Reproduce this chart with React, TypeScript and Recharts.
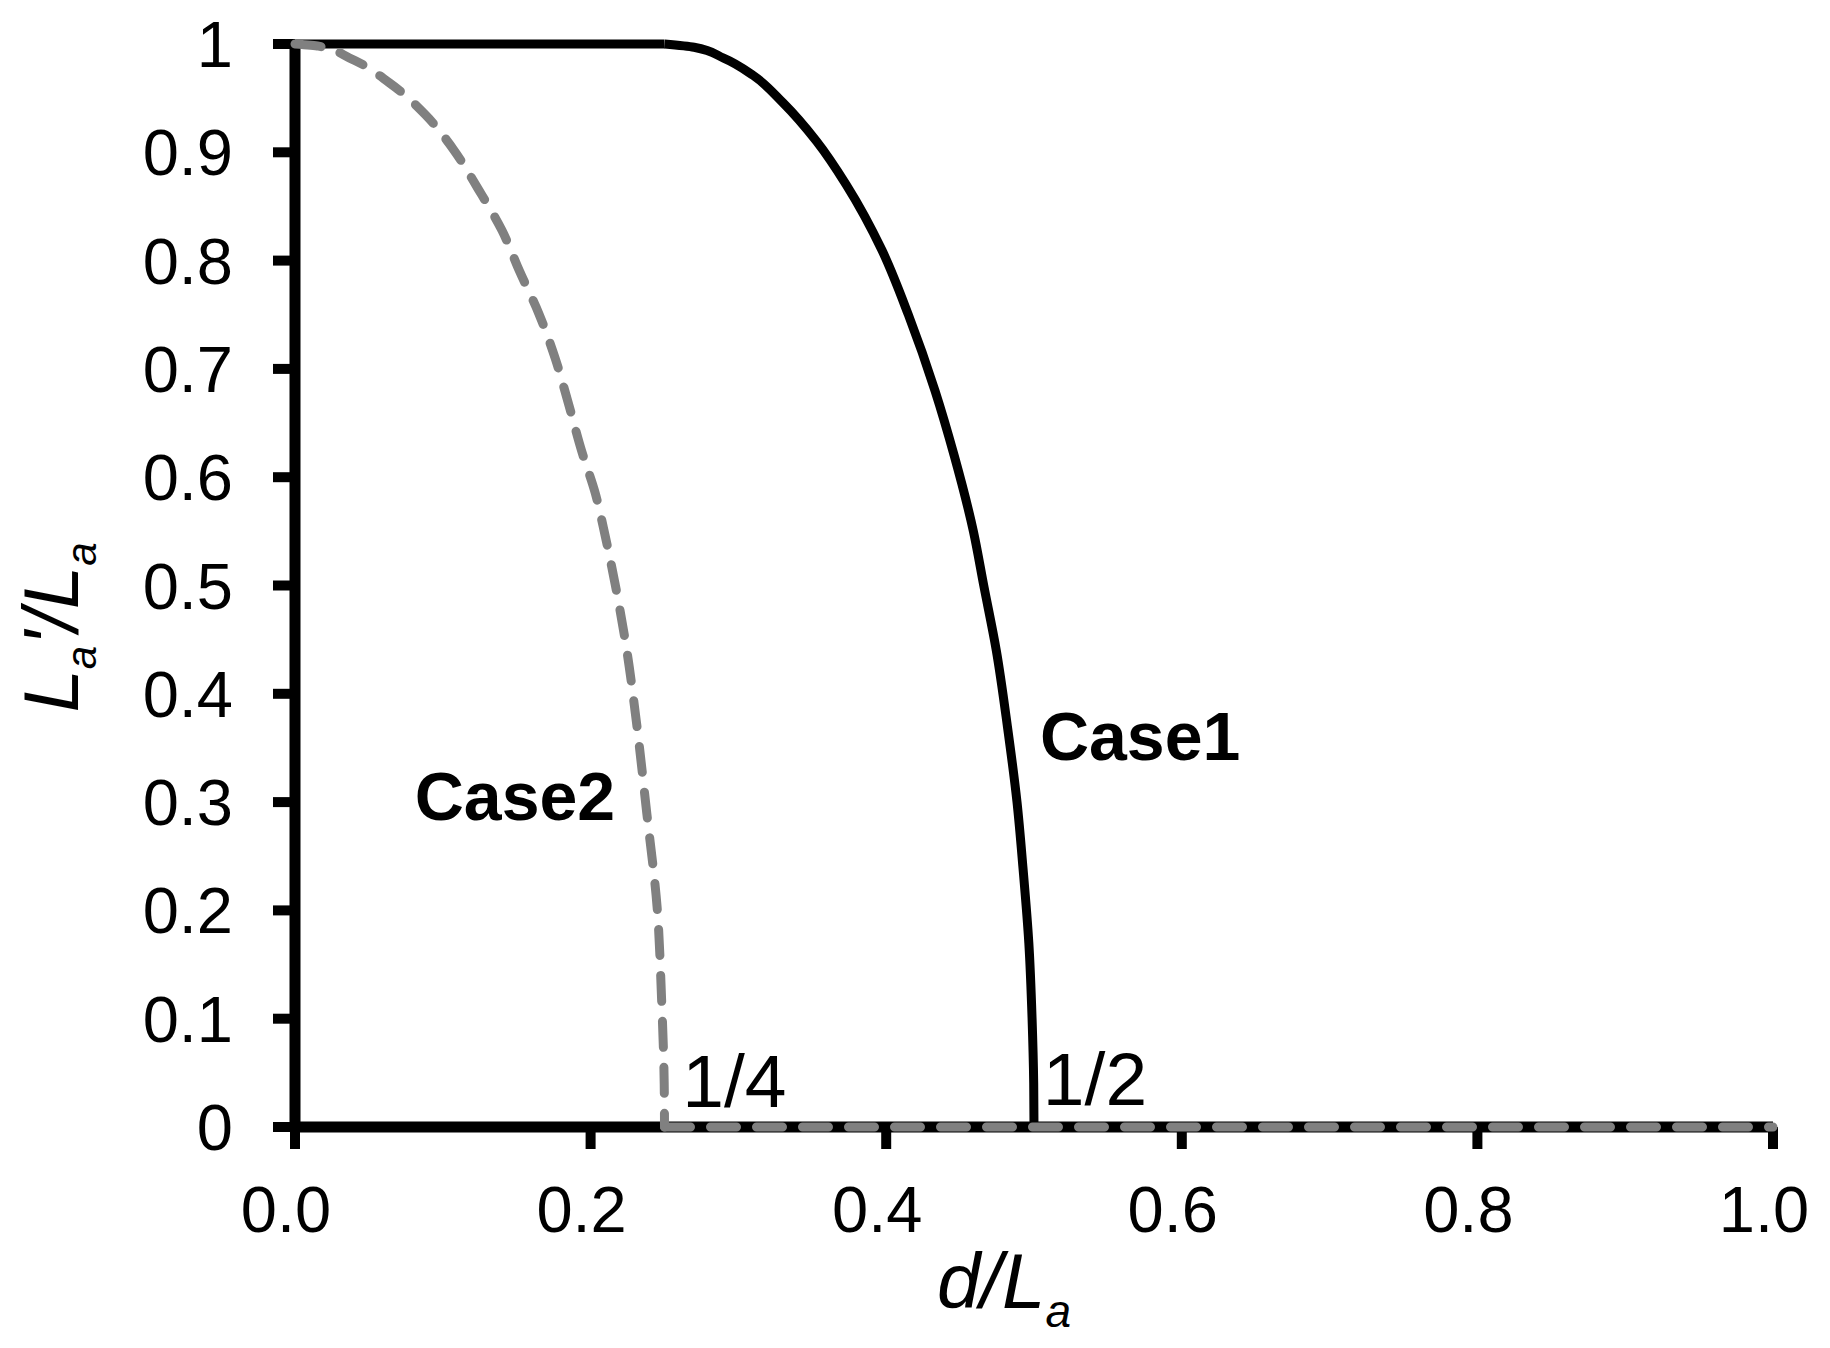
import React from 'react';
import { ComposedChart, Line, Scatter, XAxis, YAxis } from 'recharts';

const FONT = '"Liberation Sans", Arial, Helvetica, sans-serif';

const xTicks = [0, 0.2, 0.4, 0.6, 0.8, 1.0];
const yTicks = [0, 0.1, 0.2, 0.3, 0.4, 0.5, 0.6, 0.7, 0.8, 0.9, 1];

// Case1 (solid black): flat top, curved drop, flat bottom
const case1TopX = [0, 0.25];
const case1TopY = [1, 1];
const case1CurveX = [0.25, 0.27, 0.29, 0.31, 0.33, 0.353, 0.373, 0.397, 0.415, 0.433, 0.446, 0.459, 0.466, 0.4745, 0.482, 0.4885, 0.4925, 0.4965, 0.4987, 0.4998, 0.5];
const case1CurveY = [1, 0.997, 0.987, 0.971, 0.946, 0.91, 0.87, 0.81, 0.75, 0.68, 0.62, 0.55, 0.5, 0.44, 0.37, 0.3, 0.24, 0.17, 0.1, 0.04, 0];
const case1BottomX = [0.5, 1.0];
const case1BottomY = [0, 0];

// Case2 (dashed grey): curved drop, flat bottom
const case2CurveX = [0, 0.016, 0.037, 0.064, 0.088, 0.107, 0.124, 0.14, 0.152, 0.165, 0.176, 0.185, 0.194, 0.203, 0.21, 0.2165, 0.2245, 0.231, 0.238, 0.245, 0.248, 0.2498, 0.25];
const case2CurveY = [1, 0.998, 0.987, 0.964, 0.935, 0.903, 0.866, 0.828, 0.79, 0.751, 0.71, 0.668, 0.624, 0.586, 0.545, 0.502, 0.44, 0.374, 0.29, 0.203, 0.119, 0.04, 0];
const case2BottomX = [0.25, 1.0];
const case2BottomY = [0, 0];

const caseNames = ['Case1', 'Case2'];
const caseAnchorX = [0.504, 0.081];
const caseAnchorY = [0.339, 0.2835];

const fractionNames = ['1/4', '1/2'];
const fractionAnchorX = [0.262, 0.506];
const fractionAnchorY = [0.0185, 0.02];

const zip = (xs: number[], ys: number[]) => xs.map((x, i) => ({ x, y: ys[i] }));
const case1Top = zip(case1TopX, case1TopY);
const case1Curve = zip(case1CurveX, case1CurveY);
const case1Bottom = zip(case1BottomX, case1BottomY);
const case2Curve = zip(case2CurveX, case2CurveY);
const case2Bottom = zip(case2BottomX, case2BottomY);
const caseLabelData = caseNames.map((text, i) => ({ x: caseAnchorX[i], y: caseAnchorY[i], text }));
const fractionLabelData = fractionNames.map((text, i) => ({ x: fractionAnchorX[i], y: fractionAnchorY[i], text }));

const renderCaseLabel = (props: any) => (
  <text x={props.cx} y={props.cy} fontFamily={FONT} fontWeight="bold" fontSize={68} fill="#000" textAnchor="start">
    {props.payload.text}
  </text>
);

const renderFractionLabel = (props: any) => (
  <text x={props.cx} y={props.cy} fontFamily={FONT} fontSize={75} fill="#000" textAnchor="start">
    {props.payload.text}
  </text>
);

const renderYTitle = (props: any) => {
  const vb = props.viewBox || { x: 0, y: 44, width: 295, height: 1083 };
  const X = vb.x + 78;
  const Y = vb.y + vb.height / 2 + 42;
  return (
    <text
      x={X}
      y={Y}
      transform={`rotate(-90 ${X} ${Y})`}
      textAnchor="middle"
      fontFamily={FONT}
      fontStyle="italic"
      fontSize={78}
      fill="#000"
    >
      <tspan>L</tspan>
      <tspan fontSize={42} dy={18}>a</tspan>
      <tspan dy={-18}>'/L</tspan>
      <tspan fontSize={42} dy={18}>a</tspan>
    </text>
  );
};

const renderXTitle = (props: any) => {
  const vb = props.viewBox || { x: 295, y: 1127, width: 1478, height: 221 };
  const X = vb.x + vb.width / 2 - 30;
  const Y = vb.y + 181;
  return (
    <text x={X} y={Y} textAnchor="middle" fontFamily={FONT} fontStyle="italic" fontSize={78} fill="#000">
      <tspan>d/L</tspan>
      <tspan fontSize={46} dy={19}>a</tspan>
    </text>
  );
};

const solid = { stroke: '#000', strokeWidth: 9, dot: false, activeDot: false, isAnimationActive: false } as const;
const dashed = {
  stroke: '#808080',
  strokeWidth: 9,
  strokeDasharray: '26 20',
  strokeLinecap: 'round',
  dot: false,
  activeDot: false,
  isAnimationActive: false,
} as const;

export default function App() {
  return (
    <div style={{ position: 'absolute', left: 0, top: 0, width: 1830, height: 1348, background: '#fff' }}>
      <ComposedChart width={1830} height={1348} margin={{ top: 44, right: 57, bottom: 0, left: 0 }}>
        <XAxis
          type="number"
          dataKey="x"
          domain={[0, 1]}
          ticks={xTicks}
          interval={0}
          height={221}
          tickSize={22}
          tickMargin={37}
          tickFormatter={(v: number) => v.toFixed(1)}
          axisLine={{ stroke: '#000', strokeWidth: 11 }}
          tickLine={{ stroke: '#000', strokeWidth: 10 }}
          tick={{ fill: '#000', fontSize: 65, fontFamily: FONT, dx: -9 }}
          label={renderXTitle}
          {...({ zIndex: 0 } as any)}
        />
        <YAxis
          type="number"
          dataKey="y"
          domain={[0, 1]}
          ticks={yTicks}
          interval={0}
          width={295}
          tickSize={22}
          tickMargin={40}
          tickFormatter={(v: number) => String(v)}
          axisLine={{ stroke: '#000', strokeWidth: 11 }}
          tickLine={{ stroke: '#000', strokeWidth: 10 }}
          tick={{ fill: '#000', fontSize: 65, fontFamily: FONT }}
          label={renderYTitle}
          {...({ zIndex: 0 } as any)}
        />
        <Line data={case1Top} dataKey="y" type="linear" {...solid} />
        <Line data={case1Curve} dataKey="y" type="monotoneY" {...solid} />
        <Line data={case1Bottom} dataKey="y" type="linear" {...solid} />
        <Line data={case2Curve} dataKey="y" type="monotoneY" {...dashed} />
        <Line data={case2Bottom} dataKey="y" type="linear" {...dashed} />
        <Scatter data={caseLabelData} dataKey="y" shape={renderCaseLabel} isAnimationActive={false} />
        <Scatter data={fractionLabelData} dataKey="y" shape={renderFractionLabel} isAnimationActive={false} />
      </ComposedChart>
    </div>
  );
}
